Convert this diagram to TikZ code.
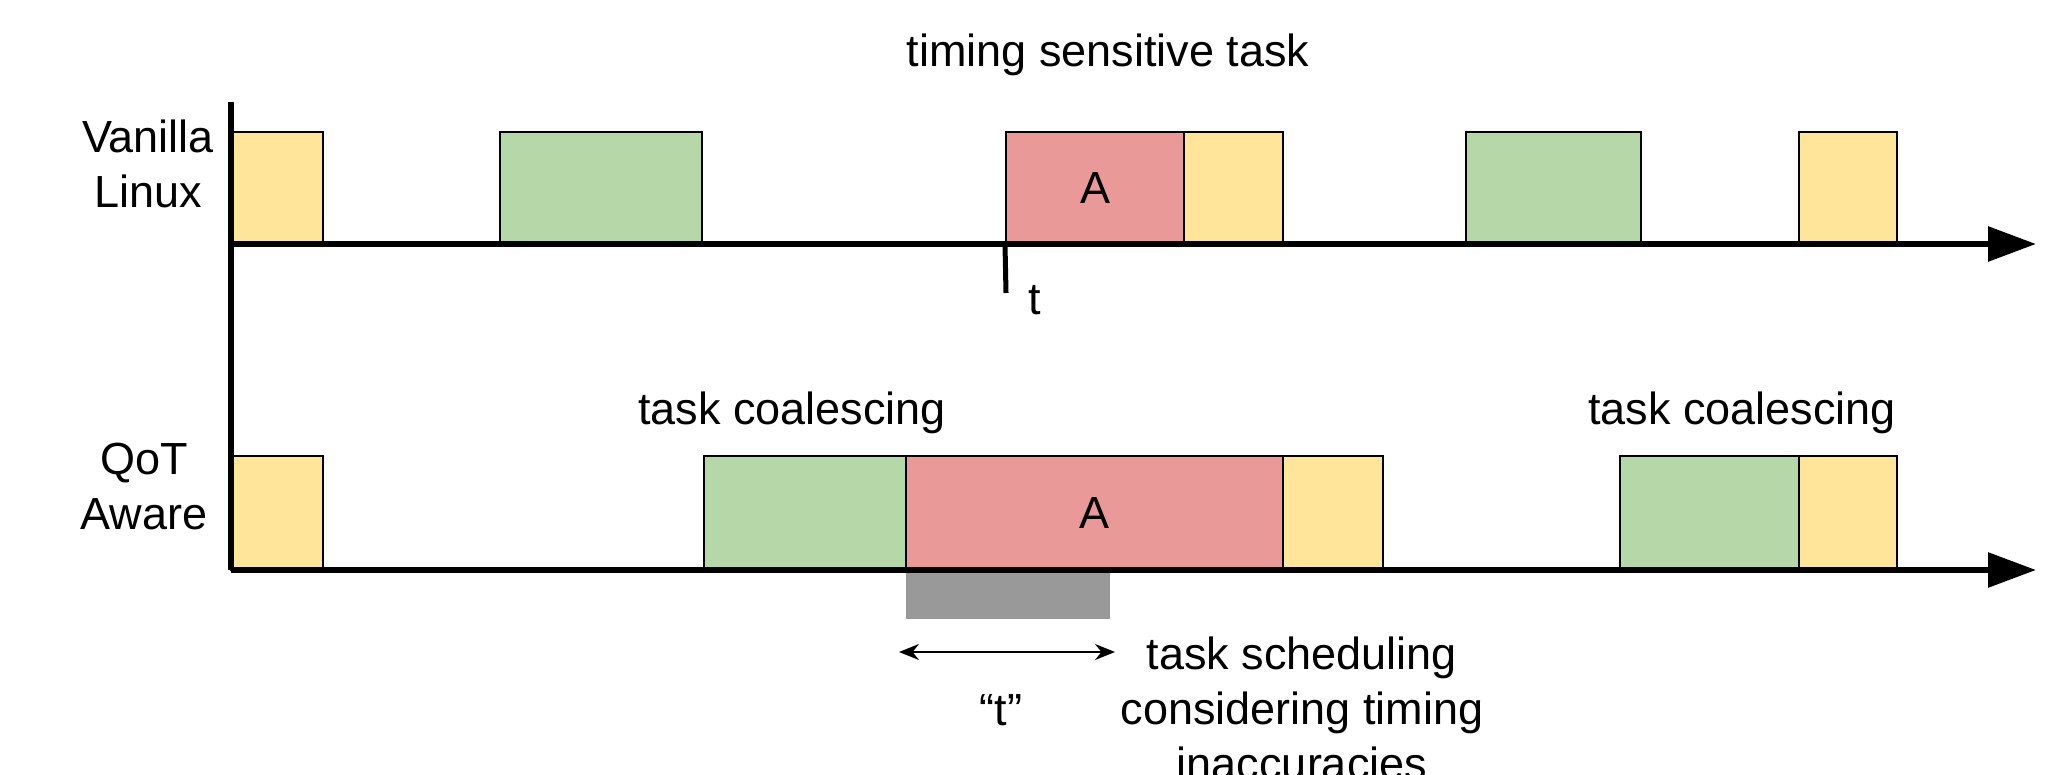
\documentclass[tikz,border=0pt]{standalone}
\usepackage{fontspec}
\setmainfont{Liberation Sans}
\usetikzlibrary{arrows.meta,fit}
\definecolor{yel}{HTML}{FFE599}
\definecolor{grn}{HTML}{B6D7A8}
\definecolor{rd}{HTML}{EA9999}
\definecolor{gr}{HTML}{999999}
\tikzset{
  x=0.5pt,y=-0.5pt,
  box/.style={draw=black,line width=1pt,inner sep=0pt,fit={#1}},
  yelbox/.style={box={#1},fill=yel},
  grnbox/.style={box={#1},fill=grn},
  rdbox/.style={box={#1},fill=rd},
  axisline/.style={line width=3pt,-{Triangle[length=24pt,width=17pt]}},
  lbl/.style={font=\fontsize{22.5}{27.5}\selectfont,align=center,inner sep=0pt},
}
\begin{document}
\begin{tikzpicture}
\useasboundingbox (0,0) rectangle (2049,775);
\clip (0,0) rectangle (2049,775);
% coordinates
\coordinate (top) at (231,102);
\coordinate (o1) at (231,244);
\coordinate (e1) at (2036,244);
\coordinate (o2) at (231,570);
\coordinate (e2) at (2036,570);
% top row boxes
\node[yelbox={(231,132)(323,244)}] (v1) {};
\node[grnbox={(500,132)(702,244)}] (v2) {};
\node[rdbox={(1006,132)(1184,244)}] (v3) {};
\node[yelbox={(1184,132)(1283,244)}] (v4) {};
\node[grnbox={(1466,132)(1641,244)}] (v5) {};
\node[yelbox={(1799,132)(1897,244)}] (v6) {};
\node[lbl] (va) at (v3.center) {A};
% bottom row boxes
\node[yelbox={(231,456)(323,570)}] (q1) {};
\node[grnbox={(704,456)(906,570)}] (q2) {};
\node[rdbox={(906,456)(1283,570)}] (q3) {};
\node[yelbox={(1283,456)(1383,570)}] (q4) {};
\node[grnbox={(1620,456)(1799,570)}] (q5) {};
\node[yelbox={(1799,456)(1897,570)}] (q6) {};
\node[lbl] (qa) at (q3.center) {A};
% gray band
\node[fill=gr,inner sep=0pt,fit={(906,571)(1110,619)}] (band) {};
% axes
\draw[line width=3pt] (top) -- (o2);
\draw[axisline] (o1) -- (e1);
\draw[axisline] (o2) -- (e2);
% tick
\coordinate (tk) at (1006,293);
\draw[line width=2.5pt] (v3.south west) -- (tk);
\node[lbl] (tl) at (1035,300) {t};
% double arrow
\coordinate (da1) at (899,652);
\coordinate (da2) at (1115,652);
\draw[line width=1pt,{Stealth[length=10pt,width=8pt]}-{Stealth[length=10pt,width=8pt]}] (da1) -- (da2);
% labels
\node[lbl] (title) at (1108,55) {timing sensitive task};
\node[lbl] (vl) at (148,164) {Vanilla\\Linux};
\node[lbl] (ql) at (144,487) {QoT\\Aware};
\node[lbl] (tc1) at (792,413) {task coalescing};
\node[lbl] (tc2) at (1742,413) {task coalescing};
\node[lbl] (qt) at (1001,710) {“t”};
\node[lbl,anchor=north] (ts) at (1302,636) {task scheduling\\considering timing\\inaccuracies};
\end{tikzpicture}
\end{document}
